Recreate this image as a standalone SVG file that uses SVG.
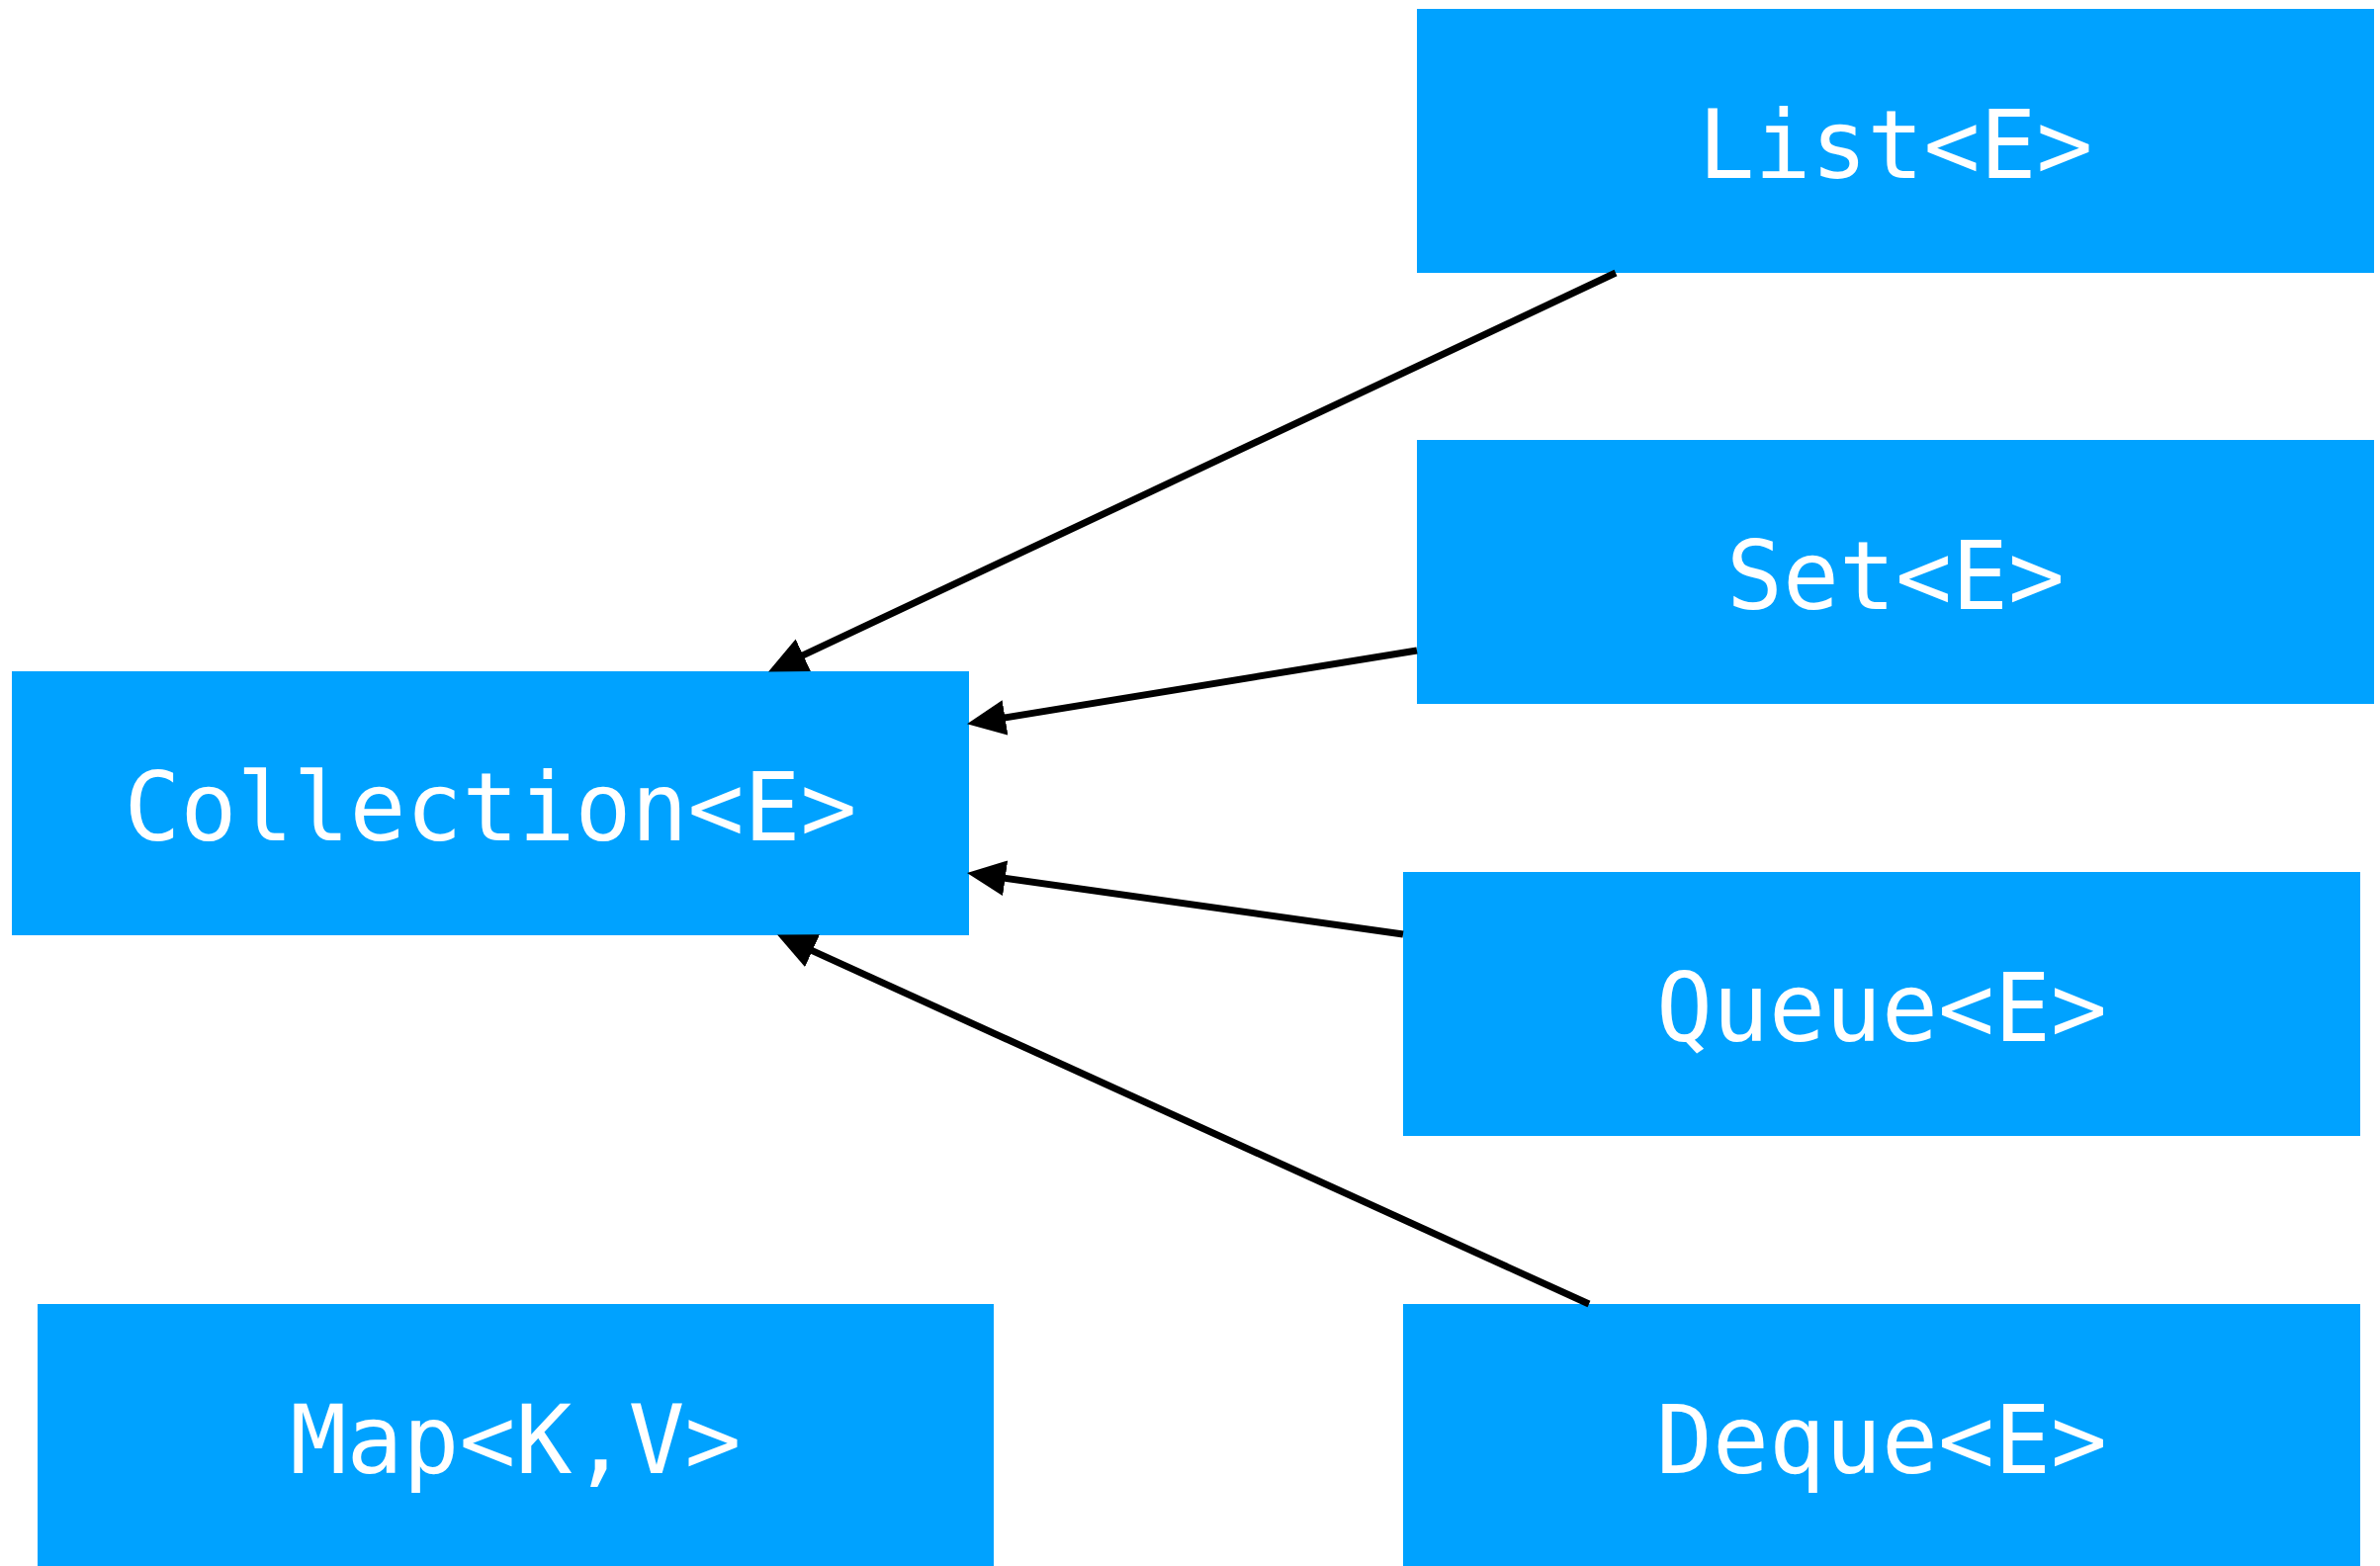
<svg xmlns="http://www.w3.org/2000/svg" width="2407" height="1584" viewBox="0 0 2407 1584">
<style>
.box{fill:#00A2FF}
.lbl{fill:#FFFFFF;font-family:"DejaVu Sans Mono","Liberation Mono",monospace;font-size:97px;text-anchor:middle}
.edge{stroke:#000000;stroke-width:7;fill:none;marker-end:url(#arrow)}
</style>
<defs>
<marker id="arrow" markerUnits="userSpaceOnUse" markerWidth="44" markerHeight="40" refX="8" refY="18" orient="auto" viewBox="0 0 44 40">
<path d="M0,0 L39,18 L0,36 z" fill="#000000"/>
</marker>
</defs>
<rect width="2407" height="1584" fill="#FFFFFF"/>
<g id="node-list"><rect class="box" x="1433" y="9" width="968" height="267"/><text class="lbl" x="1917" y="180" textLength="399" lengthAdjust="spacingAndGlyphs">List&lt;E&gt;</text></g>
<g id="node-set"><rect class="box" x="1433" y="445" width="968" height="267"/><text class="lbl" x="1917" y="616" textLength="342" lengthAdjust="spacingAndGlyphs">Set&lt;E&gt;</text></g>
<g id="node-collection"><rect class="box" x="12" y="679" width="968" height="267"/><text class="lbl" x="496" y="850" textLength="741" lengthAdjust="spacingAndGlyphs">Collection&lt;E&gt;</text></g>
<g id="node-queue"><rect class="box" x="1419" y="882" width="968" height="267"/><text class="lbl" x="1903" y="1053" textLength="456" lengthAdjust="spacingAndGlyphs">Queue&lt;E&gt;</text></g>
<g id="node-map"><rect class="box" x="38" y="1319" width="967" height="267"/><text class="lbl" x="521.5" y="1490" textLength="456" lengthAdjust="spacingAndGlyphs">Map&lt;K,V&gt;</text></g>
<g id="node-deque"><rect class="box" x="1419" y="1319" width="968" height="267"/><text class="lbl" x="1903" y="1490" textLength="456" lengthAdjust="spacingAndGlyphs">Deque&lt;E&gt;</text></g>
<g id="connectors">
<line class="edge" x1="1634" y1="276" x2="805.1" y2="666.2"/>
<line class="edge" x1="1433" y1="658" x2="1008.6" y2="727.2"/>
<line class="edge" x1="1419" y1="945" x2="1008.7" y2="887.2"/>
<line class="edge" x1="1607" y1="1319" x2="814.3" y2="958.4"/>
</g>
</svg>
